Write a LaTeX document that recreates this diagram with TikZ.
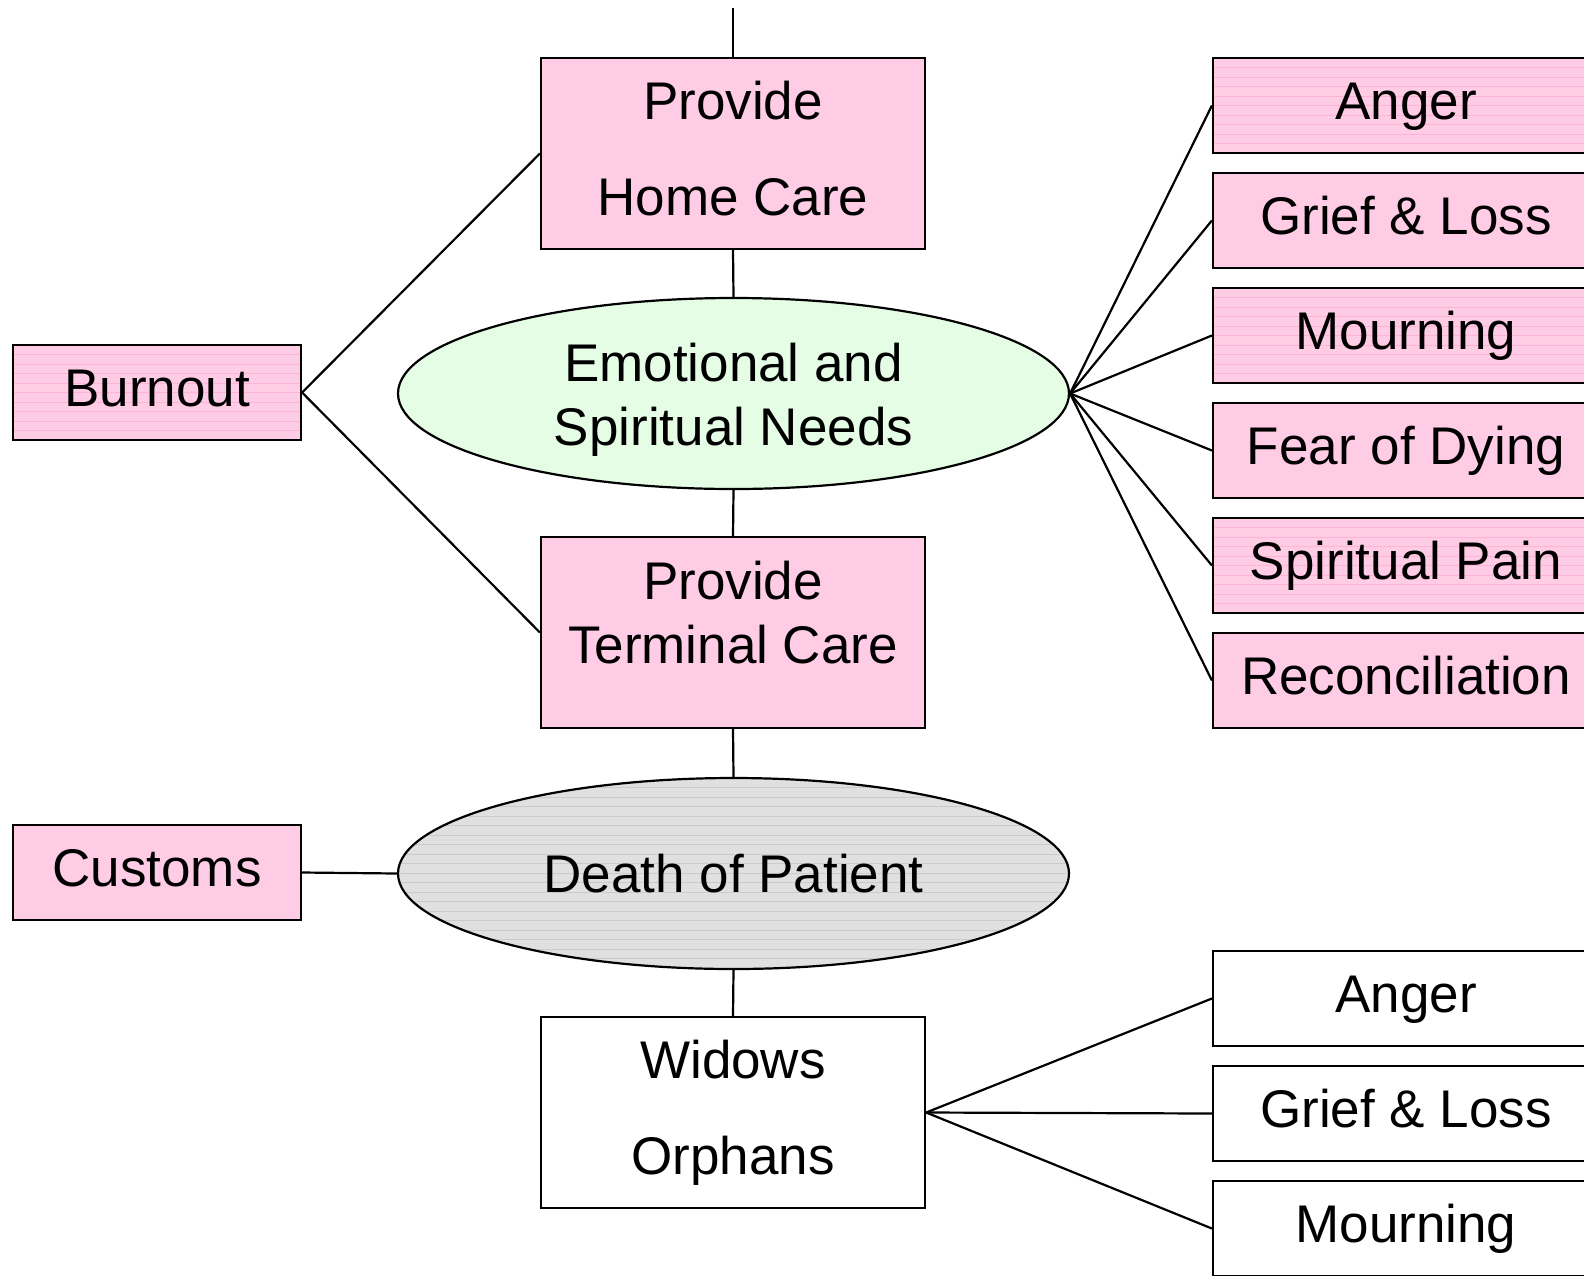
\documentclass[tikz,border=0pt]{standalone}
\usepackage{fontspec}
\setmainfont{Liberation Sans}
\usetikzlibrary{shapes.geometric}
\definecolor{pinkf}{HTML}{FFCCE5}
\definecolor{pinks}{HTML}{FFB3D6}
\definecolor{greenf}{HTML}{E5FDE5}
\definecolor{grayf}{HTML}{E0E0E0}
\definecolor{grays}{HTML}{CBCBCB}
\begin{document}
\begin{tikzpicture}[x=1pt,y=-1pt,
 every node/.style={font=\fontsize{53}{64}\selectfont, inner sep=0pt},
 line/.style={line width=2.2pt},
 box/.style={draw, line width=2.2pt, rectangle, align=center},
 mainbox/.style={box, minimum width=384pt, minimum height=191pt},
 sidebox/.style={box, minimum width=288pt, minimum height=95pt, text height=38pt, text depth=11pt},
 rbox/.style={box, minimum width=386pt, minimum height=95pt, text height=38pt, text depth=11pt},
 oval/.style={draw, line width=2.2pt, ellipse, minimum width=671pt, minimum height=191pt, align=center},
 txt/.style={align=center},
 pinkfill/.style={fill=pinkf},
 stripes/.style={path picture={\foreach \k in {1,...,21}{\draw[#1,line width=0.7pt] ([yshift=-\k*9.5pt]path picture bounding box.north west) -- ([yshift=-\k*9.5pt]path picture bounding box.north east);}}},
 wide/.style={font=\fontsize{53}{96}\selectfont},
]
\useasboundingbox (0,0) rectangle (1584,1275);
\fill[white] (0,0) rectangle (1584,1275);

\coordinate (top) at (733,8);
\node[mainbox, pinkfill] (home) at (733,153.5) {};
\node[txt, wide] (hometxt) at (733,148.5) {Provide\\Home Care};
\node[oval, fill=greenf] (emo) at (733.5,393.5) {};
\node[txt] (emotxt) at (733.5,399.5) {Emotional and\\Spiritual Needs};
\node[mainbox, pinkfill] (term) at (733,632.5) {};
\node[txt] (termtxt) at (733,613) {Provide\\Terminal Care};
\node[oval, fill=grayf, stripes=grays] (death) at (733.5,873.5) {Death of Patient};
\node[mainbox, fill=white, wide] (wid) at (733,1112.5) {Widows\\Orphans};

\node[sidebox, pinkfill, stripes=pinks] (burn) at (157,392.5) {Burnout};
\node[sidebox, pinkfill] (cust) at (157,872.5) {Customs};

\node[rbox, pinkfill, stripes=pinks] (r1) at (1406,105.5) {Anger};
\node[rbox, pinkfill] (r2) at (1406,220.5) {Grief \& Loss};
\node[rbox, pinkfill, stripes=pinks] (r3) at (1406,335.5) {Mourning};
\node[rbox, pinkfill] (r4) at (1406,450.5) {Fear of Dying};
\node[rbox, pinkfill, stripes=pinks] (r5) at (1406,565.5) {Spiritual Pain};
\node[rbox, pinkfill] (r6) at (1406,680.5) {Reconciliation};

\node[rbox, fill=white] (b1) at (1406,998.5) {Anger};
\node[rbox, fill=white] (b2) at (1406,1113.5) {Grief \& Loss};
\node[rbox, fill=white] (b3) at (1406,1228.5) {Mourning};

\draw[line] (top) -- (home.north);
\draw[line] (home.south) -- (emo.north);
\draw[line] (emo.south) -- (term.north);
\draw[line] (term.south) -- (death.north);
\draw[line] (death.south) -- (wid.north);
\draw[line] (burn.east) -- (home.west);
\draw[line] (burn.east) -- (term.west);
\draw[line] (cust.east) -- (death.west);
\foreach \n in {r1,r2,r3,r4,r5,r6} \draw[line] (emo.east) -- (\n.west);
\foreach \n in {b1,b2,b3} \draw[line] (wid.east) -- (\n.west);
\end{tikzpicture}
\end{document}
